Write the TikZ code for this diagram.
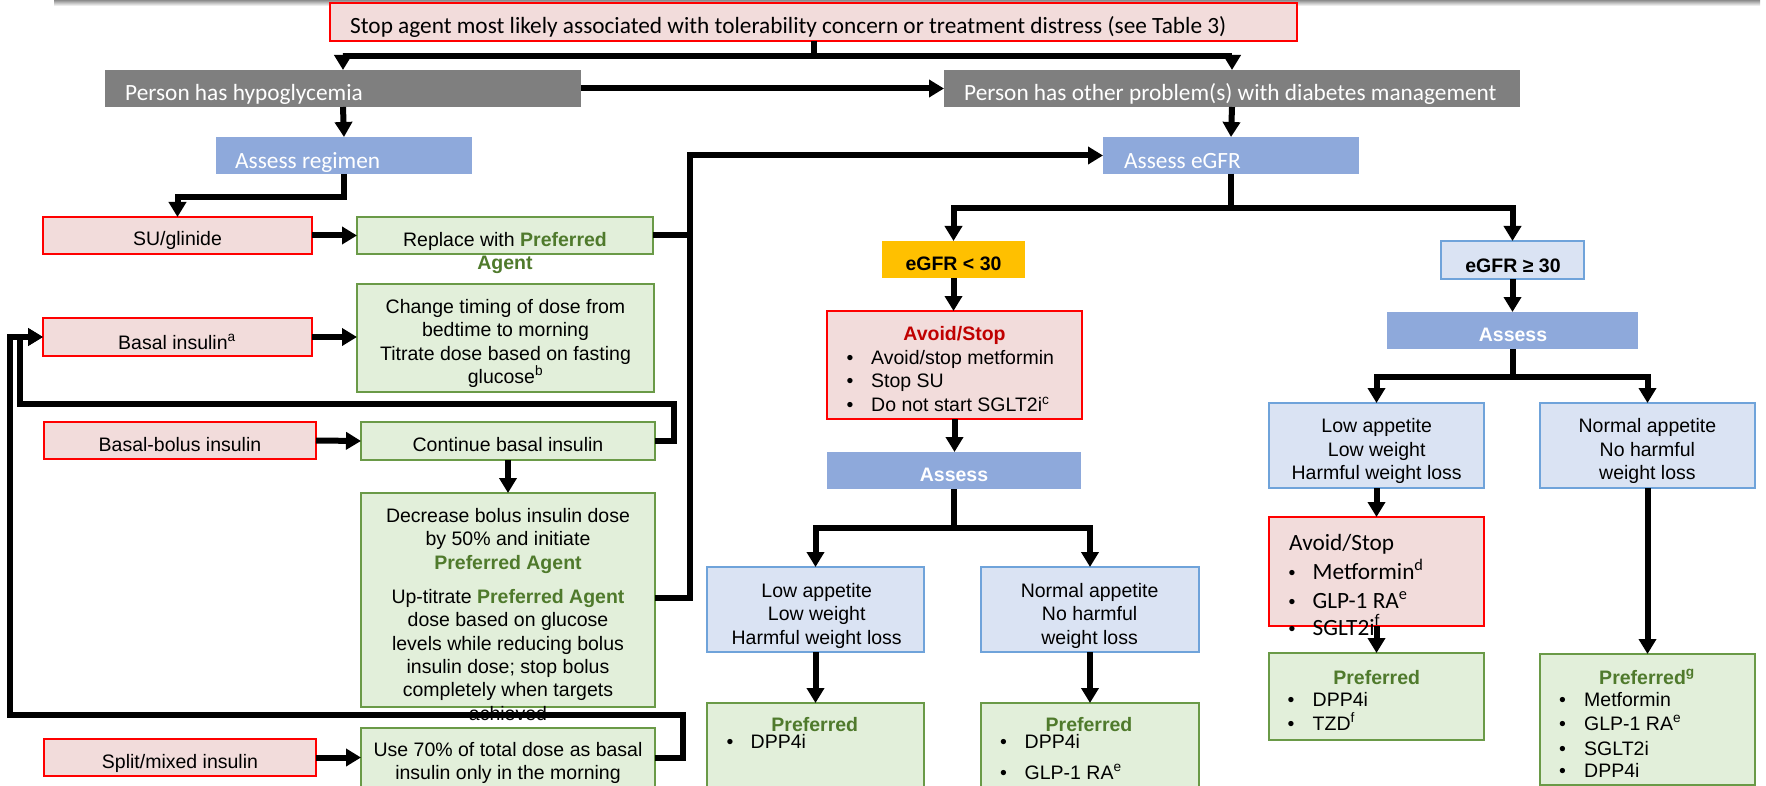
\documentclass[tikz,border=0pt]{standalone}
\usepackage{fontspec}
\setmainfont{Liberation Sans}
\newfontfamily\calfont{Carlito}
\usetikzlibrary{arrows.meta}

\definecolor{pinkfill}{HTML}{F2DCDB}
\definecolor{boxred}{HTML}{FF0000}
\definecolor{greenfill}{HTML}{E2EFDA}
\definecolor{boxgreen}{HTML}{6A9A47}
\definecolor{prefgreen}{HTML}{4F7A2C}
\definecolor{lightblue}{HTML}{DAE3F3}
\definecolor{boxblue}{HTML}{6FA3DA}
\definecolor{headblue}{HTML}{8EA9DB}
\definecolor{headgray}{HTML}{7F7F7F}
\definecolor{amber}{HTML}{FFC000}
\definecolor{stopred}{HTML}{C00000}

% rectangle given by its corners (x1,y1)-(x2,y2), y growing downwards
\newcommand\mkbox[6]{\node[#1, minimum width=#5-#3, minimum height=#6-#4] (#2) at (#3,#4) {};}
% bullet item: [text style] name, bullet x, text x, baseline y, text
\newcommand\bitem[6][t]{%
  \node[t, anchor=base] (#2d) at (#3,#5) {\textbullet};
  \node[#1, anchor=base west] (#2) at (#4,#5) {#6};}
\newcommand\pref[1]{\textbf{\textcolor{prefgreen}{#1}}}

\tikzset{
  shape base/.style={anchor=north west, inner sep=0pt, outer sep=0pt, line width=1.5pt},
  pinkbox/.style={shape base, draw=boxred, fill=pinkfill},
  greenbox/.style={shape base, draw=boxgreen, fill=greenfill},
  bluebox/.style={shape base, draw=boxblue, fill=lightblue},
  headbox/.style={shape base, fill=headblue},
  graybox/.style={shape base, fill=headgray},
  amberbox/.style={shape base, fill=amber},
  t/.style={inner sep=0pt, font=\fontsize{19.5}{23.3}\selectfont, align=center},
  tb/.style={t, font=\fontsize{19.5}{23.3}\selectfont\bfseries},
  tc/.style={inner sep=0pt, font=\calfont\fontsize{23.3}{28.5}\selectfont},
  ht/.style={tc, text=white, anchor=base west},
  line/.style={line width=6pt, line join=miter},
  arr/.style={line, -{Triangle[length=15pt,width=17pt]}},
}

\begin{document}
\begin{tikzpicture}[x=1pt,y=-1pt]
\useasboundingbox (0,0) rectangle (1766,786);
\clip (0,0) rectangle (1766,786);

% shadow along the top edge
\shade[top color=black!45, bottom color=white] (54,0) rectangle (1760,6);

% ---------- boxes ----------
\mkbox{pinkbox}{stop}{330}{3}{1297}{41}
\mkbox{graybox}{hyp}{105}{70}{581}{107}
\mkbox{graybox}{other}{944}{70}{1520}{107}
\mkbox{headbox}{regimen}{216}{137}{472}{174}
\mkbox{headbox}{egfr}{1103}{137}{1359}{174}
\mkbox{pinkbox}{su}{43}{217}{312}{254}
\mkbox{greenbox}{replace}{357}{217}{653}{254}
\mkbox{pinkbox}{basal}{43}{318}{312}{356}
\mkbox{greenbox}{change}{357}{284}{654}{392}
\mkbox{pinkbox}{bb}{44}{422}{316}{459}
\mkbox{greenbox}{cont}{361}{422}{655}{460}
\mkbox{greenbox}{dec}{361}{493}{655}{707}
\mkbox{pinkbox}{split}{44}{739}{316}{776}
\mkbox{greenbox}{use}{361}{728}{655}{800}
\mkbox{amberbox}{lt}{882}{241}{1025}{278}
\mkbox{bluebox}{ge}{1441}{241}{1584}{279}
\mkbox{pinkbox}{avoidM}{827}{311}{1082}{419}
\mkbox{headbox}{assessM}{827}{452}{1081}{489}
\mkbox{bluebox}{lowM}{707}{567}{924}{652}
\mkbox{bluebox}{normM}{981}{567}{1199}{652}
\mkbox{greenbox}{prefML}{707}{703}{924}{800}
\mkbox{greenbox}{prefMR}{981}{703}{1199}{800}
\mkbox{headbox}{assessR}{1387}{312}{1638}{349}
\mkbox{bluebox}{lowR}{1269}{403}{1484}{488}
\mkbox{bluebox}{normR}{1540}{403}{1755}{488}
\mkbox{pinkbox}{avoidR}{1269}{517}{1484}{626}
\mkbox{greenbox}{prefRL}{1269}{653}{1484}{740}
\mkbox{greenbox}{prefRR}{1540}{654}{1755}{785}

% ---------- texts ----------
\node[tc, anchor=base west] (stoptxt) at (350,33.5)
  {Stop agent most likely associated with tolerability concern or treatment distress (see Table 3)};
\node[ht] (hyptxt) at (125,101) {Person has hypoglycemia};
\node[ht] (othertxt) at (964,101) {Person has other problem(s) with diabetes management};
\node[ht] (regimentxt) at (235,169) {Assess regimen};
\node[ht] (egfrtxt) at (1124,169) {Assess eGFR};

\node[t, anchor=base] (sutxt) at (177.5,246) {SU/glinide};
\node[t, anchor=north] (replacetxt) at (505,229.7) {\strut Replace with \pref{Preferred}\\\pref{Agent}};
\node[t, anchor=base] (basaltxt) at (177,349.3) {Basal insulin\textsuperscript{a}};
\node[t, anchor=north] (changetxt) at (505.5,297)
  {\strut Change timing of dose from\\bedtime to morning\\Titrate dose based on fasting\\glucose\textsuperscript{b}};
\node[t, anchor=base] (bbtxt) at (180,451) {Basal-bolus insulin};
\node[t, anchor=base] (conttxt) at (508,451) {Continue basal insulin};
\node[t, anchor=north] (dectxt) at (508,506)
  {\strut Decrease bolus insulin dose\\by 50\% and initiate\\\pref{Preferred Agent}};
\node[t, anchor=north] (uptxt) at (508,587)
  {\strut Up-titrate \pref{Preferred Agent}\\dose based on glucose\\levels while reducing bolus\\insulin dose; stop bolus\\completely when targets\\achieved};
\node[t, anchor=base] (splittxt) at (180,768.3) {Split/mixed insulin};
\node[t, anchor=north] (usetxt) at (508,739.7)
  {\strut Use 70\% of total dose as basal\\insulin only in the morning};

% eGFR < 30 branch
\node[tb, anchor=base] (lttxt) at (953.5,270.7) {eGFR < 30};
\node[tb, anchor=base, text=stopred] (avoidMtxt) at (954.5,340.7) {Avoid/Stop};
\bitem{am1}{850}{871}{364.3}{Avoid/stop metformin}
\bitem{am2}{850}{871}{387.3}{Stop SU}
\bitem{am3}{850}{871}{411.7}{Do not start SGLT2i\textsuperscript{c}}
\node[tb, anchor=base, text=white] (assessMtxt) at (954,481.7) {Assess};
\node[t, anchor=north] (lowMtxt) at (816.7,581) {\strut Low appetite\\Low weight\\Harmful weight loss};
\node[t, anchor=north] (normMtxt) at (1089.6,581) {\strut Normal appetite\\No harmful\\weight loss};
\node[tb, anchor=base] (prefMLtxt) at (814.8,731) {\pref{Preferred}};
\bitem{pl1}{730}{750.5}{748.5}{DPP4i}
\node[tb, anchor=base] (prefMRtxt) at (1089,731) {\pref{Preferred}};
\bitem{pr1}{1003.5}{1024.5}{748.5}{DPP4i}
\bitem{pr2}{1003.5}{1024.5}{779.3}{GLP-1 RA\textsuperscript{e}}

% eGFR >= 30 branch
\node[tb, anchor=base] (getxt) at (1513,272.7) {eGFR ≥ 30};
\node[tb, anchor=base, text=white] (assessRtxt) at (1513,341.7) {Assess};
\node[t, anchor=north] (lowRtxt) at (1376.7,416.4) {\strut Low appetite\\Low weight\\Harmful weight loss};
\node[t, anchor=north] (normRtxt) at (1647.4,416.4) {\strut Normal appetite\\No harmful\\weight loss};
\node[tc, anchor=base west] (avoidRtxt) at (1289,550) {Avoid/Stop};
\bitem[tc]{ar1}{1292}{1312.5}{579.3}{Metformin\textsuperscript{d}}
\bitem[tc]{ar2}{1292}{1312.5}{608.3}{GLP-1 RA\textsuperscript{e}}
\bitem[tc]{ar3}{1292}{1312.5}{635}{SGLT2i\textsuperscript{f}}
\node[tb, anchor=base] (prefRLtxt) at (1376.7,684) {\pref{Preferred}};
\bitem{ql1}{1291}{1312.5}{706.7}{DPP4i}
\bitem{ql2}{1291}{1312.5}{730}{TZD\textsuperscript{f}}
\node[tb, anchor=base] (prefRRtxt) at (1647,684) {\pref{Preferred\textsuperscript{g}}};
\bitem{qr1}{1562.6}{1584}{706.7}{Metformin}
\bitem{qr2}{1562.6}{1584}{730}{GLP-1 RA\textsuperscript{e}}
\bitem{qr3}{1562.6}{1584}{755}{SGLT2i}
\bitem{qr4}{1562.6}{1584}{777.7}{DPP4i}

% ---------- connectors ----------
\coordinate (jx) at (690,235.5);
\coordinate (upt) at (655,598);
\coordinate (l1a) at (674,404);
\coordinate (l1b) at (20,404);
\coordinate (l2a) at (683,715);
\coordinate (l2b) at (10,715);

\draw[arr] (stop.south) -- ++(0,15) -| (hyp.north);
\draw[arr] (stop.south) -- ++(0,15) -| (other.north);
\draw[arr] (hyp.east) -- (other.west);
\draw[arr] (hyp.south) -- (regimen.north);
\draw[arr] (other.south) -- (egfr.north);

\draw[arr] (regimen.south) -- ++(0,23) -| (su.north);
\draw[arr] (su.east) -- (replace.west);
\draw[arr] (replace.east) -- (jx) |- (egfr.west);
\draw[line] (dec.east |- upt) -| (jx);

\draw[arr] (basal.east) -- (basal.east -| change.west);
\draw[arr] (bb.east) -- (cont.west);
\draw[arr] (cont.south) -- (dec.north);
\draw[arr] (cont.east) -| (l1a) -- (l1b) |- (basal.west);
\draw[arr] (split.east) -- (split.east -| use.west);
\draw[arr] (use.east |- split.east) -| (l2a) -- (l2b) |- (basal.west);

\draw[arr] (egfr.south) -- ++(0,34) -| (lt.north);
\draw[arr] (egfr.south) -- ++(0,34) -| (ge.north);

\draw[arr] (lt.south) -- (lt.south |- avoidM.north);
\draw[arr] (avoidM.south) -- (avoidM.south |- assessM.north);
\draw[arr] (assessM.south) -- ++(0,39) -| (lowM.north);
\draw[arr] (assessM.south) -- ++(0,39) -| (normM.north);
\draw[arr] (lowM.south) -- (prefML.north);
\draw[arr] (normM.south) -- (prefMR.north);

\draw[arr] (ge.south) -- (ge.south |- assessR.north);
\draw[arr] (assessR.south) -- ++(0,28) -| (lowR.north);
\draw[arr] (assessR.south) -- ++(0,28) -| (normR.north);
\draw[arr] (lowR.south) -- (avoidR.north);
\draw[arr] (avoidR.south) -- (prefRL.north);
\draw[arr] (normR.south) -- (prefRR.north);
\end{tikzpicture}
\end{document}
